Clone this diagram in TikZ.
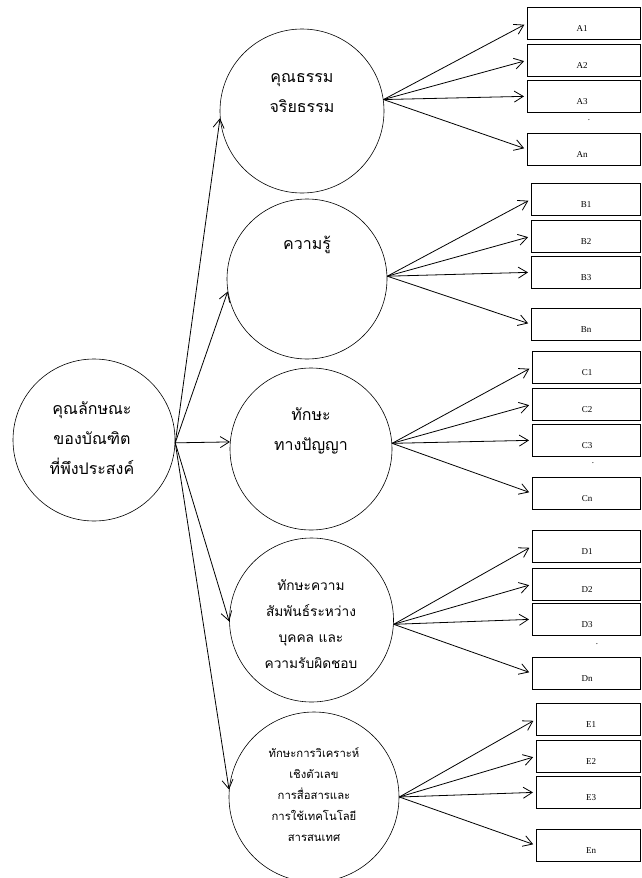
\documentclass[tikz,border=0pt]{standalone}
\usepackage{fontspec}
\setmainfont{Liberation Serif}
\newfontfamily\thaifont[Script=Thai]{Loma}
\usetikzlibrary{arrows.meta}
\begin{document}
\begin{tikzpicture}[x=1pt,y=-1pt,
  circ/.style={circle,draw,line width=0.6pt,inner sep=0pt},
  tbig/.style={font=\thaifont\fontsize{16}{30}\selectfont,align=center,inner sep=0pt},
  tmid/.style={font=\thaifont\fontsize{13.7}{26}\selectfont,align=center,inner sep=0pt},
  tsml/.style={font=\thaifont\fontsize{11.3}{21}\selectfont,align=center,inner sep=0pt},
  bx/.style={draw,line width=0.6pt,minimum height=32pt,inner sep=0pt,anchor=north west},
  lbl/.style={font=\fontsize{9}{10}\selectfont,inner sep=0pt},
  dotn/.style={font=\fontsize{9}{10}\selectfont,inner sep=0pt},
  arr/.style={line width=0.8pt,-{Straight Barb[length=9pt,width=11pt]}},
  barr/.style={arr,shorten >=3pt},
]
\useasboundingbox (0,0) rectangle (641,878);

% circles
\node[circ,minimum size=162pt] (M) at (94,440) {};
\node[circ,minimum size=164pt] (A) at (302,111) {};
\node[circ,minimum size=160pt] (B) at (307,279) {};
\node[circ,minimum size=162pt] (C) at (311,449) {};
\node[circ,minimum size=164pt] (D) at (311.5,620) {};
\node[circ,minimum size=170pt] (E) at (314,797) {};

% circle texts
\node[tbig] (Mt) at (92,438) {คุณลักษณะ\\ของบัณฑิต\\ที่พึงประสงค์};
\node[tbig] (At) at (302,93) {คุณธรรม\\จริยธรรม};
\node[tbig] (Bt) at (307,245) {ความรู้};
\node[tbig] (Ct) at (311,431) {ทักษะ\\ทางปัญญา};
\node[tmid] (Dt) at (311,624) {ทักษะความ\\สัมพันธ์ระหว่าง\\บุคคล และ\\ความรับผิดชอบ};
\node[tsml] (Et) at (314,795) {ทักษะการวิเคราะห์\\เชิงตัวเลข\\การสื่อสารและ\\การใช้เทคโนโลยี\\สารสนเทศ};

% boxes A
\node[bx,minimum width=113pt] (A1) at (527,7) {};
\node[bx,minimum width=113pt] (A2) at (527,44) {};
\node[bx,minimum width=113pt] (A3) at (527,80) {};
\node[bx,minimum width=113pt] (An) at (527,133) {};
% boxes B
\node[bx,minimum width=109pt] (B1) at (531,183) {};
\node[bx,minimum width=109pt] (B2) at (531,220) {};
\node[bx,minimum width=109pt] (B3) at (531,256) {};
\node[bx,minimum width=109pt] (Bn) at (531,308) {};
% boxes C
\node[bx,minimum width=108pt] (C1) at (532,351) {};
\node[bx,minimum width=108pt] (C2) at (532,388) {};
\node[bx,minimum width=108pt] (C3) at (532,424) {};
\node[bx,minimum width=108pt] (Cn) at (532,477) {};
% boxes D
\node[bx,minimum width=108pt] (D1) at (532,530) {};
\node[bx,minimum width=108pt] (D2) at (532,568) {};
\node[bx,minimum width=108pt] (D3) at (532,603) {};
\node[bx,minimum width=108pt] (Dn) at (532,657) {};
% boxes E
\node[bx,minimum width=104pt] (E1) at (536,703) {};
\node[bx,minimum width=104pt] (E2) at (536,740) {};
\node[bx,minimum width=104pt] (E3) at (536,776) {};
\node[bx,minimum width=104pt] (En) at (536,829) {};

% box labels
\foreach \n/\l/\x/\y in {A1/A1/582/29, A2/A2/582/66, A3/A3/582/102, An/An/582/155,
  B1/B1/586/205, B2/B2/586/242, B3/B3/586/278, Bn/Bn/586/330,
  C1/C1/587/373, C2/C2/587/410, C3/C3/587/446, Cn/Cn/587/499,
  D1/D1/587/552, D2/D2/587/590, D3/D3/587/625, Dn/Dn/587/679,
  E1/E1/591/725, E2/E2/591/762, E3/E3/591/798, En/En/591/851}
  \node[lbl] (\n l) at (\x,\y) {\l};

% dots
\node[dotn] (Adot) at (589,120) {.};
\node[dotn] (Cdot) at (593,463) {.};
\node[dotn] (Ddot) at (597,644) {.};

% main arrows
\draw[arr] (M.-2) -- (A.185);
\draw[arr] (M.-2) -- (B.189);
\draw[arr] (M.-2) -- (C.175);
\draw[arr] (M.-2) -- (D.181);
\draw[arr] (M.-2) -- (E.175);

% box arrows
\foreach \b in {A1,A2,A3,An} \draw[barr] (A.8) -- (\b.west);
\foreach \b in {B1,B2,B3,Bn} \draw[barr] (B.2) -- (\b.west);
\foreach \b in {C1,C2,C3,Cn} \draw[barr] (C.4) -- (\b.west);
\foreach \b in {D1,D2,D3,Dn} \draw[barr] (D.-3) -- (\b.west);
\foreach \b in {E1,E2,E3,En} \draw[barr] (E.0) -- (\b.west);
\end{tikzpicture}
\end{document}
